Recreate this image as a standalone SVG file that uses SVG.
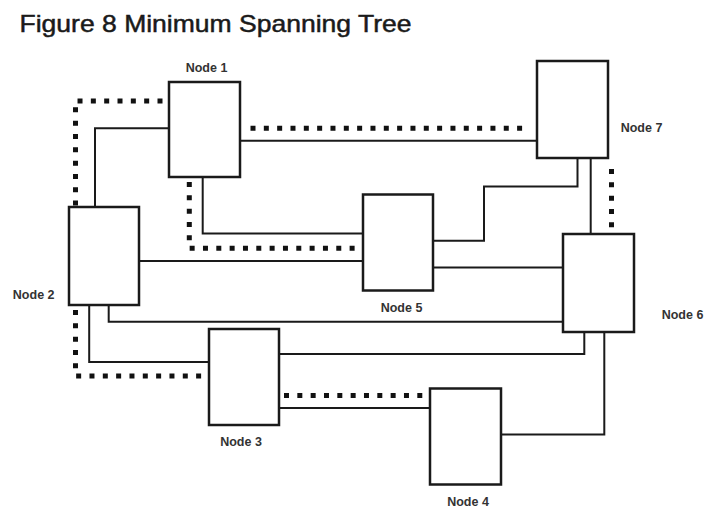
<svg xmlns="http://www.w3.org/2000/svg" width="706" height="508" viewBox="0 0 706 508">
<style>
.node{fill:#fff;stroke:#1a1a1a;stroke-width:2.5}
.lbl{font-family:"Liberation Sans",Arial,sans-serif;font-size:12.5px;font-weight:bold;fill:#333}
.solid{fill:none;stroke:#1a1a1a;stroke-width:2}
.dot{fill:none;stroke:#111;stroke-width:5;stroke-dasharray:5 8.33}
</style>
<rect width="706" height="508" fill="#fff"/>
<text x="19.5" y="31.5" font-family="'Liberation Sans',Arial,sans-serif" font-size="24" fill="#1a1a1a" stroke="#1a1a1a" stroke-width="0.5" textLength="392" lengthAdjust="spacingAndGlyphs">Figure 8 Minimum Spanning Tree</text>
<g id="connectors">
<path class="solid" d="M169 128.3H95V207"/>
<path class="solid" d="M240 140.7H537"/>
<path class="solid" d="M202.7 177V233.5H363"/>
<path class="solid" d="M139 261H363"/>
<path class="solid" d="M433 240.7H484V186.5H577.5V158"/>
<path class="solid" d="M590.7 158V234"/>
<path class="solid" d="M433 267.5H563"/>
<path class="solid" d="M108.7 305V321.7H563"/>
<path class="solid" d="M89.2 305V362H209"/>
<path class="solid" d="M279 354H584.3V332"/>
<path class="solid" d="M279 408H430"/>
<path class="solid" d="M501 434.5H604.3V332"/>
<path class="dot" d="M162.5 101H75.5V207"/>
<path class="dot" d="M250.5 128.3H525"/>
<path class="dot" d="M189.3 182V248.3H358"/>
<path class="dot" d="M611.5 169V228"/>
<path class="dot" d="M75.5 310V376H205"/>
<path class="dot" d="M284 395.5H424"/>
</g>
<g id="node1"><rect class="node" x="169" y="82" width="71" height="95"/><text class="lbl" x="206.5" y="71.5" text-anchor="middle">Node 1</text></g>
<g id="node2"><rect class="node" x="69" y="207" width="70" height="98"/><text class="lbl" x="33.7" y="299" text-anchor="middle">Node 2</text></g>
<g id="node3"><rect class="node" x="209" y="329" width="70" height="96"/><text class="lbl" x="241" y="446" text-anchor="middle">Node 3</text></g>
<g id="node4"><rect class="node" x="430" y="388.5" width="71" height="96"/><text class="lbl" x="468" y="505.5" text-anchor="middle">Node 4</text></g>
<g id="node5"><rect class="node" x="363" y="194.5" width="70" height="96"/><text class="lbl" x="401.5" y="312" text-anchor="middle">Node 5</text></g>
<g id="node6"><rect class="node" x="563" y="234" width="71" height="98"/><text class="lbl" x="682.5" y="319" text-anchor="middle">Node 6</text></g>
<g id="node7"><rect class="node" x="537" y="61" width="71" height="97"/><text class="lbl" x="641.5" y="131.5" text-anchor="middle">Node 7</text></g>
</svg>
